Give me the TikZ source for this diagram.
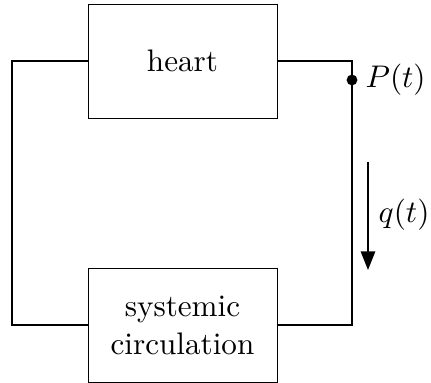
\documentclass[tikz,border=0pt]{standalone}
\usetikzlibrary{arrows.meta}
\begin{document}
\begin{tikzpicture}[x=0.35pt,y=-0.35pt,font=\fontsize{10.9}{13.5}\selectfont,
  blockbox/.style={draw,line width=0.3pt,minimum width=189*0.35pt,minimum height=114*0.35pt,inner sep=0pt,align=center},
  wire/.style={line width=0.7pt},
  flow/.style={line width=0.7pt,-{Triangle[length=6.5pt,width=5pt]}}]
\useasboundingbox (0,0) rectangle (431,383);
\node[blockbox] (heart) at (182.5,61) {heart};
\node[blockbox] (sys) at (182.5,325.5) {systemic\\circulation};
\coordinate (tl) at (12,61);
\coordinate (bl) at (12,325);
\coordinate (tr) at (352,61);
\coordinate (br) at (352,325);
\coordinate (pp) at (352,80);
\draw[wire] (heart.west |- tl) -- (tl) -- (bl) -- (sys.west |- bl);
\draw[wire] (heart.east |- tr) -- (tr) -- (br) -- (sys.east |- br);
\fill (pp) circle[radius=1.9pt];
\node[anchor=west,inner sep=0pt] (plabel) at (365,80) {$P(t)$};
\coordinate (qa) at (368,162);
\coordinate (qb) at (368,270);
\draw[flow] (qa) -- (qb);
\node[anchor=east,inner sep=0pt] (qlabel) at (430,215) {$q(t)$};
\end{tikzpicture}
\end{document}
